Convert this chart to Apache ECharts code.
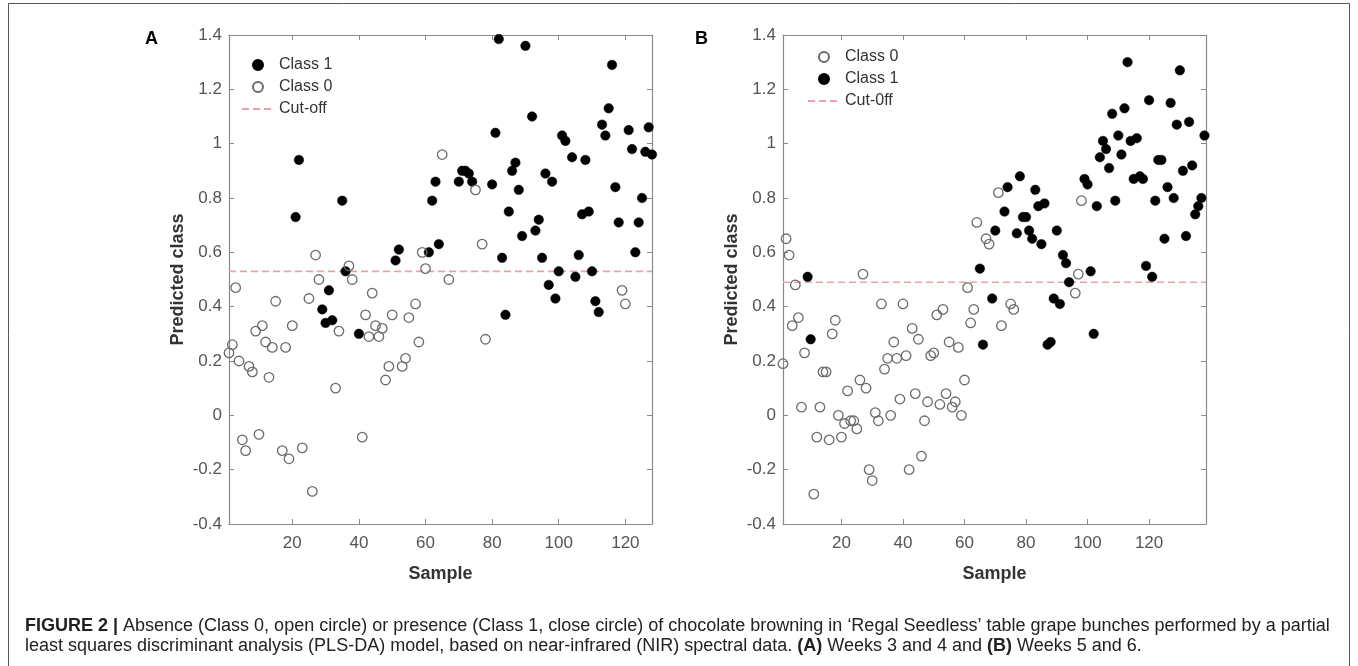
<!DOCTYPE html>
<html>
<head>
<meta charset="utf-8">
<script src="https://cdn.jsdelivr.net/npm/echarts@6/dist/echarts.min.js"></script>
<style>
  html, body { margin: 0; padding: 0; background: #fff; }
  #main { width: 1358px; height: 666px; }
</style>
</head>
<body>
<div id="main"></div>
<script>
// panel A (weeks 3 and 4): [sample, predicted class]
const aClass0 = [[1,0.23],[2,0.26],[3,0.47],[4,0.20],[5,-0.09],[6,-0.13],[7,0.18],[8,0.16],[9,0.31],[10,-0.07],
  [11,0.33],[12,0.27],[13,0.14],[14,0.25],[15,0.42],[17,-0.13],[18,0.25],[19,-0.16],[20,0.33],[23,-0.12],
  [25,0.43],[26,-0.28],[27,0.59],[28,0.50],[33,0.10],[34,0.31],[37,0.55],[38,0.50],[41,-0.08],[42,0.37],
  [43,0.29],[44,0.45],[45,0.33],[46,0.29],[47,0.32],[48,0.13],[49,0.18],[50,0.37],[53,0.18],[54,0.21],
  [55,0.36],[57,0.41],[58,0.27],[59,0.60],[60,0.54],[65,0.96],[67,0.50],[75,0.83],[77,0.63],[78,0.28],
  [119,0.46],[120,0.41]];
const aClass1 = [[21,0.73],[22,0.94],[29,0.39],[30,0.34],[31,0.46],[32,0.35],[35,0.79],[36,0.53],[40,0.30],
  [51,0.57],[52,0.61],[61,0.60],[62,0.79],[63,0.86],[64,0.63],[70,0.86],[71,0.90],[72,0.90],[73,0.89],
  [74,0.86],[80,0.85],[81,1.04],[82,1.385],[83,0.58],[84,0.37],[85,0.75],[86,0.90],[87,0.93],[88,0.83],
  [89,0.66],[90,1.36],[92,1.10],[93,0.68],[94,0.72],[95,0.58],[96,0.89],[97,0.48],[98,0.86],[99,0.43],
  [100,0.53],[101,1.03],[102,1.01],[104,0.95],[105,0.51],[106,0.59],[107,0.74],[108,0.94],[109,0.75],
  [110,0.53],[111,0.42],[112,0.38],[113,1.07],[114,1.03],[115,1.13],[116,1.29],[117,0.84],[118,0.71],
  [121,1.05],[122,0.98],[123,0.60],[124,0.71],[125,0.80],[126,0.97],[127,1.06],[128,0.96]];
const aCutoff = 0.53;
const aSamples = [1, 128];

// panel B (weeks 5 and 6)
const bClass0 = [[1,0.19],[2,0.65],[3,0.59],[4,0.33],[5,0.48],[6,0.36],[7,0.03],[8,0.23],[11,-0.29],[12,-0.08],
  [13,0.03],[14,0.16],[15,0.16],[16,-0.09],[17,0.30],[18,0.35],[19,0.00],[20,-0.08],[21,-0.03],[22,0.09],
  [23,-0.02],[24,-0.02],[25,-0.05],[26,0.13],[27,0.52],[28,0.10],[29,-0.20],[30,-0.24],[31,0.01],[32,-0.02],
  [33,0.41],[34,0.17],[35,0.21],[36,0.00],[37,0.27],[38,0.21],[39,0.06],[40,0.41],[41,0.22],[42,-0.20],
  [43,0.32],[44,0.08],[45,0.28],[46,-0.15],[47,-0.02],[48,0.05],[49,0.22],[50,0.23],[51,0.37],[52,0.04],
  [53,0.39],[54,0.08],[55,0.27],[56,0.03],[57,0.05],[58,0.25],[59,0.00],[60,0.13],[61,0.47],[62,0.34],
  [63,0.39],[64,0.71],[67,0.65],[68,0.63],[71,0.82],[72,0.33],[75,0.41],[76,0.39],[96,0.45],[97,0.52],
  [98,0.79]];
const bClass1 = [[9,0.51],[10,0.28],[65,0.54],[66,0.26],[69,0.43],[70,0.68],[73,0.75],[74,0.84],[77,0.67],
  [78,0.88],[79,0.73],[80,0.73],[81,0.68],[82,0.65],[83,0.83],[84,0.77],[85,0.63],[86,0.78],[87,0.26],
  [88,0.27],[89,0.43],[90,0.68],[91,0.41],[92,0.59],[93,0.56],[94,0.49],[99,0.87],[100,0.85],[101,0.53],
  [102,0.30],[103,0.77],[104,0.95],[105,1.01],[106,0.98],[107,0.91],[108,1.11],[109,0.79],[110,1.03],
  [111,0.96],[112,1.13],[113,1.30],[114,1.01],[115,0.87],[116,1.02],[117,0.88],[118,0.87],[119,0.55],
  [120,1.16],[121,0.51],[122,0.79],[123,0.94],[124,0.94],[125,0.65],[126,0.84],[127,1.15],[128,0.80],
  [129,1.07],[130,1.27],[131,0.90],[132,0.66],[133,1.08],[134,0.92],[135,0.74],[136,0.77],[137,0.80],
  [138,1.03]];
const bCutoff = 0.49;
const bSamples = [1, 138.5];

const yTicks = { min: -0.4, max: 1.4, step: 0.2 };

const FONT = "'Liberation Sans', Arial, Helvetica, sans-serif";
const AXIS_GRAY = '#8a8a8a';

let chart = echarts.init(document.getElementById('main'));

function xAxisPair(grid, range) {
  const base = {
    type: 'value', gridIndex: grid, min: range[0], max: range[1],
    splitNumber: 6, minInterval: 20, maxInterval: 20,
    splitLine: { show: false },
    axisLine: { onZero: false, lineStyle: { color: AXIS_GRAY, width: 1.2 } },
    axisTick: { inside: true, length: 5, lineStyle: { color: AXIS_GRAY } }
  };
  return [
    Object.assign({}, base, {
      position: 'bottom',
      axisLabel: { color: '#555', fontSize: 17, fontFamily: FONT, margin: 11,
        formatter: v => (v % 20 === 0 ? String(v) : '') },
      name: 'Sample', nameLocation: 'middle', nameGap: 41,
      nameTextStyle: { fontWeight: 'bold', fontSize: 18, color: '#333', fontFamily: FONT }
    }),
    Object.assign({}, base, { position: 'top', axisLabel: { show: false } })
  ];
}

function yAxisPair(grid) {
  const base = {
    type: 'value', gridIndex: grid, min: yTicks.min, max: yTicks.max, interval: yTicks.step,
    splitLine: { show: false },
    axisLine: { onZero: false, lineStyle: { color: AXIS_GRAY, width: 1.2 } },
    axisTick: { inside: true, length: 5, lineStyle: { color: AXIS_GRAY } }
  };
  return [
    Object.assign({}, base, {
      position: 'left',
      axisLabel: { color: '#555', fontSize: 17, fontFamily: FONT, margin: 7,
        formatter: v => String(Math.round(v * 10) / 10) },
      name: 'Predicted class', nameLocation: 'middle', nameGap: 42,
      nameTextStyle: { fontWeight: 'bold', fontSize: 18, color: '#333', fontFamily: FONT }
    }),
    Object.assign({}, base, { position: 'right', axisLabel: { show: false } })
  ];
}

const filled = { color: '#000', borderColor: '#000', borderWidth: 0.5, opacity: 1 };
const open = { color: 'rgba(255,255,255,0)', borderColor: '#6b6b6b', borderWidth: 1.3, opacity: 1 };
const cutStyle = { color: '#e9a2ab', width: 1.6, type: [7, 4] };

function scatter(name, data, xi, yi, style) {
  return { name: name, type: 'scatter', xAxisIndex: xi, yAxisIndex: yi, data: data,
    symbol: 'circle', symbolSize: 9.5, itemStyle: style, silent: true };
}
function cutLine(name, value, range, xi, yi) {
  return { name: name, type: 'line', xAxisIndex: xi, yAxisIndex: yi, symbol: 'none',
    data: [[range[0], value], [range[1], value]],
    lineStyle: cutStyle, itemStyle: { color: cutStyle.color }, silent: true, z: 1 };
}

const legendBase = {
  orient: 'vertical', itemWidth: 32, itemHeight: 10, itemGap: 6, selectedMode: false,
  textStyle: { fontSize: 16, color: '#333', fontFamily: FONT }
};
// line entry of the legend: dashed line only, no marker
function lineEntry(name) {
  return { name: name, itemStyle: { opacity: 0 } };
}

chart.setOption({
  animation: false,
  textStyle: { fontFamily: FONT },
  grid: [
    { left: 229, top: 35, width: 423, height: 489 },
    { left: 783, top: 35, width: 423, height: 489 }
  ],
  xAxis: xAxisPair(0, aSamples).concat(xAxisPair(1, bSamples)),
  yAxis: yAxisPair(0).concat(yAxisPair(1)),
  legend: [
    Object.assign({}, legendBase, { data: ['Class 1', 'Class 0', lineEntry('Cut-off')], left: 236, top: 52 }),
    Object.assign({}, legendBase, { data: ['Class 0', 'Class 1', lineEntry('Cut-0ff')], left: 802, top: 44 })
  ],
  series: [
    cutLine('Cut-off', aCutoff, aSamples, 0, 0),
    scatter('Class 1', aClass1, 0, 0, filled),
    scatter('Class 0', aClass0, 0, 0, open),
    cutLine('Cut-0ff', bCutoff, bSamples, 2, 2),
    scatter('Class 0', bClass0, 2, 2, open),
    scatter('Class 1', bClass1, 2, 2, filled)
  ],
  graphic: [
    { type: 'rect', shape: { x: 8.5, y: 3.5, width: 1341, height: 670 }, silent: true,
      style: { fill: 'none', stroke: '#555', lineWidth: 1 } },
    { type: 'text', left: 145, top: 30,
      style: { text: 'A', font: 'bold 18px ' + FONT, fill: '#000' } },
    { type: 'text', left: 695, top: 30,
      style: { text: 'B', font: 'bold 18px ' + FONT, fill: '#000' } },
    { type: 'text', left: 25, top: 617,
      style: {
        text: '{b|FIGURE 2 |} Absence (Class 0, open circle) or presence (Class 1, close circle) of chocolate browning in \u2018Regal Seedless\u2019 table grape bunches performed by a partial',
        fontSize: 18, fontFamily: FONT, fill: '#222',
        rich: { b: { fontWeight: 'bold', fontSize: 18, fontFamily: FONT, color: '#222' } }
      } },
    { type: 'text', left: 25, top: 637,
      style: {
        text: 'least squares discriminant analysis (PLS-DA) model, based on near-infrared (NIR) spectral data. {b|(A)} Weeks 3 and 4 and {b|(B)} Weeks 5 and 6.',
        fontSize: 18, fontFamily: FONT, fill: '#222',
        rich: { b: { fontWeight: 'bold', fontSize: 18, fontFamily: FONT, color: '#222' } }
      } }
  ]
});
</script>
</body>
</html>
